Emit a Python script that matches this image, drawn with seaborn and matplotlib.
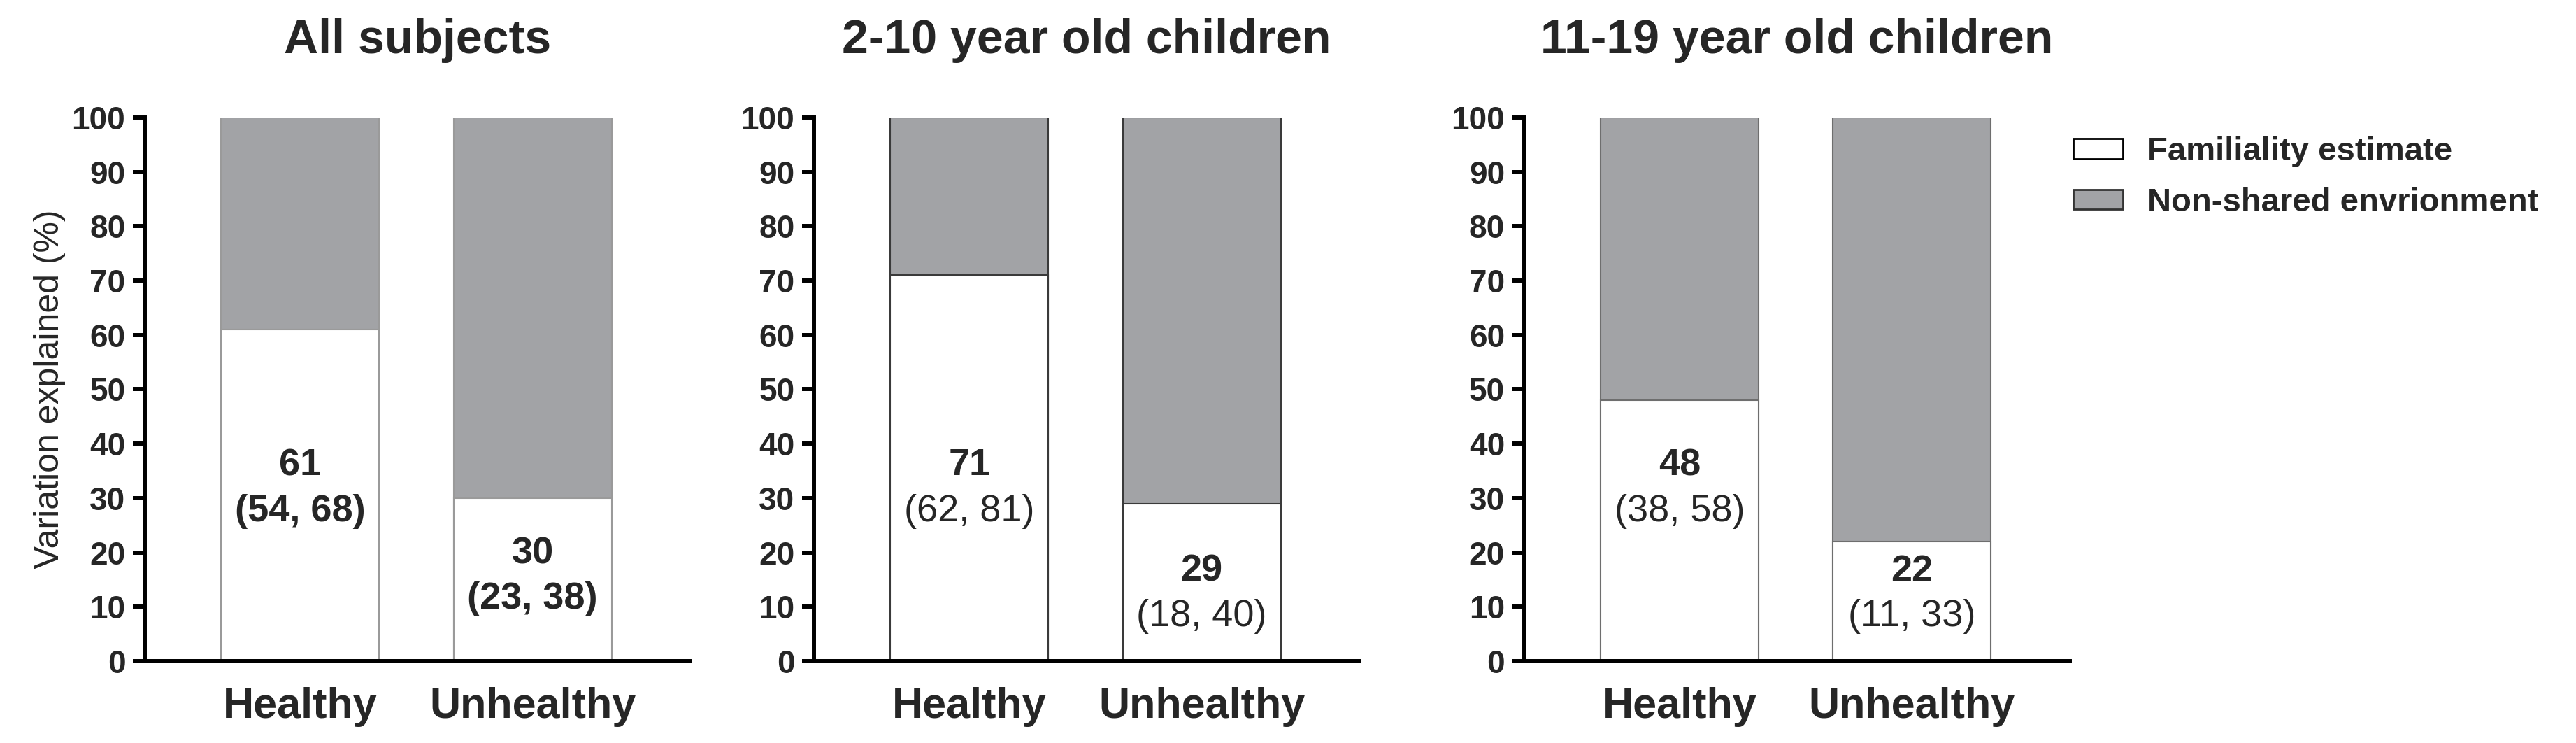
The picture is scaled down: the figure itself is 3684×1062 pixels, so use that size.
import matplotlib
matplotlib.use("Agg")
import matplotlib.pyplot as plt
import seaborn as sns
from matplotlib.patches import Patch

# values
categories = ["Healthy", "Unhealthy"]
panel_titles = ["All subjects", "2-10 year old children", "11-19 year old children"]
familiality = [[61, 30], [71, 29], [48, 22]]
non_shared = [[39, 70], [29, 71], [52, 78]]
ci_low = [[54, 23], [62, 18], [38, 11]]
ci_high = [[68, 38], [81, 40], [58, 33]]
y_ticks = list(range(0, 101, 10))
legend_labels = ["Familiality estimate", "Non-shared envrionment"]

GREY = "#a2a3a6"
EDGES = ["#9a9a9a", "#3a3a3a", "#6e6e6e"]
FONT = ["Liberation Sans", "DejaVu Sans"]
CI_WEIGHT = ["bold", "normal", "normal"]
# label centre heights (data units) for value / CI lines, as placed in the original
LABEL_Y = [[(36, 27.5), (19.7, 11.4)],
           [(36, 27.5), (16.5, 8.2)],
           [(36, 27.5), (16.5, 8.2)]]

sns.set_style("white")
plt.rcParams["font.family"] = FONT

fig = plt.figure(figsize=(36.84, 10.62), dpi=100)
lefts = [0.0562, 0.3160, 0.5917]

for i, left in enumerate(lefts):
    ax = fig.add_axes([left, 0.1102, 0.2117, 0.7316])
    totals = [f + n for f, n in zip(familiality[i], non_shared[i])]
    sns.barplot(x=categories, y=totals, color=GREY, saturation=1, width=0.68,
                edgecolor=EDGES[i], linewidth=1.5, errorbar=None, ax=ax)
    sns.barplot(x=categories, y=familiality[i], color="white", saturation=1, width=0.68,
                edgecolor=EDGES[i], linewidth=1.5, errorbar=None, ax=ax)

    for j, cat in enumerate(categories):
        y1, y2 = LABEL_Y[i][j]
        ax.text(j, y1, str(familiality[i][j]), ha="center", va="center",
                fontsize=39, fontweight="bold")
        ax.text(j, y2, f"({ci_low[i][j]}, {ci_high[i][j]})", ha="center", va="center",
                fontsize=39, fontweight=CI_WEIGHT[i])

    ax.set_xlim(-0.668, 1.678)
    ax.set_ylim(0, 100)
    ax.set_yticks(y_ticks)
    ax.set_yticklabels([str(t) for t in y_ticks], fontsize=33, fontweight="bold")
    ax.set_xticks(range(len(categories)))
    ax.set_xticklabels(categories, fontsize=44, fontweight="bold")
    ax.tick_params(axis="y", length=12, width=4.3, pad=8, color="black", left=True)
    ax.tick_params(axis="x", length=0, pad=27)
    for side in ["top", "right"]:
        ax.spines[side].set_visible(False)
    for side in ["left", "bottom"]:
        ax.spines[side].set_color("black")
        ax.spines[side].set_linewidth(4.3)
    ax.set_xlabel("")
    if i == 0:
        ax.set_ylabel("Variation explained (%)", fontsize=36, labelpad=6)
    else:
        ax.set_ylabel("")
    ax.set_title(panel_titles[i], fontsize=49, fontweight="bold", pad=66)

handles = [Patch(facecolor="white", edgecolor="black", linewidth=2),
           Patch(facecolor=GREY, edgecolor="#333333", linewidth=2)]
fig.legend(handles, legend_labels, loc="upper left", bbox_to_anchor=(0.8048, 0.816),
           frameon=False, borderpad=0, borderaxespad=0, handlelength=1.5,
           handleheight=0.55, handletextpad=0.75, labelspacing=0.6,
           prop={"weight": "bold", "size": 34})

fig.savefig("out.png", dpi=100)
